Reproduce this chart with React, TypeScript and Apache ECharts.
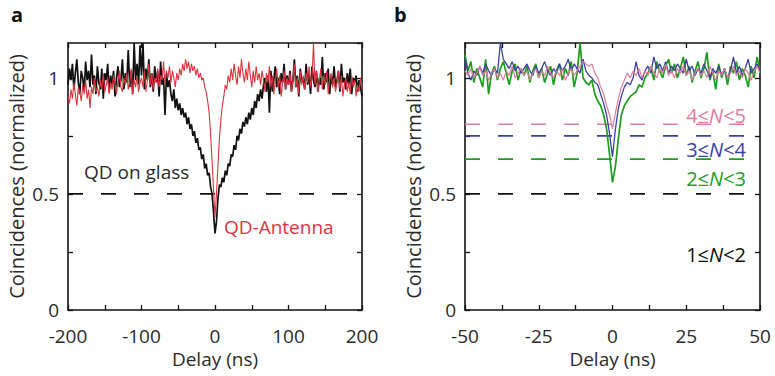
import React, { useEffect, useRef } from "react";
import * as echarts from "echarts";

// ---------- Panel a data (delay -200..200 ns, 2 ns bins) ----------
const A_START = -200;
const A_STEP = 2;
const glassA = [
  0.97, 1.04, 0.99, 1.06, 0.95, 1.02, 1.08, 0.98, 0.93, 1.03,
  1.0, 0.94, 1.07, 0.99, 1.03, 0.96, 1.1, 0.97, 1.01, 0.93,
  1.05, 0.98, 0.95, 1.04, 0.91, 1.02, 0.99, 1.06, 0.94, 1.01,
  0.97, 1.03, 0.92, 1.0, 1.05, 0.96, 0.99, 1.08, 0.95, 1.02,
  0.98, 1.12, 0.96, 1.03, 0.93, 1.15, 0.99, 1.06, 0.97, 1.14,
  1.01, 1.15, 0.95, 1.04, 0.99, 1.08, 0.96, 1.02, 0.94, 1.05,
  0.98, 1.03, 0.92, 1.07, 0.97, 1.0, 0.84, 1.02, 0.96, 0.99,
  0.93, 0.9, 0.95, 0.87, 0.91, 0.86, 0.89, 0.84, 0.87, 0.83,
  0.85, 0.8, 0.83, 0.78, 0.8, 0.75, 0.77, 0.72, 0.74, 0.69,
  0.7, 0.65, 0.67, 0.61, 0.63, 0.58, 0.59, 0.53, 0.5, 0.42,
  0.33,
  0.38, 0.48, 0.54, 0.53, 0.57, 0.55, 0.6, 0.58, 0.63, 0.62,
  0.67, 0.66, 0.71, 0.69, 0.75, 0.73, 0.78, 0.76, 0.81, 0.79,
  0.83, 0.8, 0.85, 0.82, 0.87, 0.84, 0.9, 0.87, 0.93, 0.9,
  0.95, 0.91, 0.97, 1.0, 0.94, 1.01, 0.85, 1.03, 0.94, 0.99,
  1.05, 0.96, 1.0, 0.93, 1.02, 0.98, 1.06, 0.95, 1.01, 0.97,
  1.03, 0.94, 0.99, 1.08, 0.96, 1.01, 0.92, 1.04, 0.98, 1.0,
  0.95, 1.06, 0.97, 1.02, 0.93, 1.05, 0.99, 0.96, 1.03, 0.94,
  1.0, 0.97, 1.09, 0.95, 1.02, 0.98, 1.04, 0.93, 1.01, 0.97,
  1.05, 0.96, 0.99, 1.03, 0.94, 1.06, 0.98, 1.0, 0.95, 1.02,
  0.97, 1.04, 0.93, 1.0, 0.98, 1.01, 0.94, 0.99, 0.96, 0.92,
];
const antennaA = [
  0.92, 0.89, 0.95, 0.91, 0.98, 0.93, 0.88, 0.96, 0.94, 0.9,
  0.97, 0.93, 0.99, 0.91, 0.95, 0.87, 0.96, 0.93, 1.0, 0.94,
  0.96, 0.92, 0.99, 0.95, 1.02, 0.94, 0.97, 1.0, 0.93, 0.98,
  0.95, 1.01, 0.97, 0.93, 0.99, 1.03, 0.96, 0.94, 1.0, 0.97,
  1.02, 0.95, 0.98, 1.04, 0.93, 0.99, 0.96, 1.01, 0.94, 0.98,
  1.0, 0.96, 1.03, 0.94, 0.99, 1.06, 0.97, 1.02, 0.95, 1.0,
  0.98, 1.04, 0.96, 1.01, 0.99, 1.07, 0.97, 1.03, 1.0, 1.05,
  0.98, 1.03, 1.0, 0.96, 1.02, 0.99, 1.04, 1.01, 1.06, 1.03,
  1.08, 1.04, 1.07, 1.02, 1.06, 1.03, 1.05, 1.01, 1.04, 1.0,
  1.02, 0.99, 1.0, 0.96, 0.94, 0.9, 0.85, 0.76, 0.64, 0.52,
  0.4,
  0.5, 0.62, 0.74, 0.82, 0.88, 0.92, 0.97, 0.95, 1.01, 0.98,
  1.04, 0.99, 1.06, 1.01, 0.97, 1.05, 1.0, 1.08, 1.02, 0.98,
  1.04, 0.99, 1.07, 1.01, 0.96, 1.03, 0.98, 1.05, 0.99, 1.02,
  0.97, 1.03, 0.99, 0.94, 1.02, 0.98, 1.05, 0.96, 1.01, 0.93,
  0.99, 1.04, 0.96, 1.01, 0.92, 0.98, 1.03, 0.95, 1.0, 0.97,
  1.02, 0.94, 0.99, 1.06, 0.96, 1.0, 0.93, 1.03, 0.97, 1.01,
  0.95, 1.02, 0.98, 1.05, 0.96, 1.0, 1.15, 0.97, 1.03, 0.94,
  0.99, 1.04, 0.95, 1.01, 0.97, 1.03, 0.93, 0.99, 1.02, 0.96,
  1.0, 0.94, 0.98, 1.03, 0.95, 1.01, 0.92, 0.97, 1.0, 0.94,
  0.98, 0.93, 1.01, 0.96, 0.99, 0.92, 0.97, 0.94, 1.0, 0.95,
];
const thresholdA = 0.5;

// ---------- Panel b data (delay -50..50 ns, 1 ns bins) ----------
const B_START = -50;
const B_STEP = 1;
const n4 = [
  1.03, 1.01, 1.04, 1.0, 1.02, 1.05, 1.01, 1.03, 0.99, 1.02,
  1.04, 1.0, 1.02, 0.99, 1.03, 1.01, 1.05, 1.0, 1.02, 1.04,
  1.01, 1.03, 0.99, 1.02, 1.04, 1.0, 1.03, 1.01, 1.05, 1.02,
  1.0, 1.03, 1.01, 1.04, 0.99, 1.02, 1.04, 1.01, 1.03, 1.05,
  1.07, 1.06, 1.05, 1.06, 1.02, 1.0, 0.96, 0.93, 0.88, 0.84,
  0.78,
  0.85, 0.91, 0.96, 0.99, 1.02, 1.0, 1.03, 1.01, 1.04, 1.0,
  1.03, 1.01, 1.05, 1.02, 1.0, 1.04, 1.02, 1.06, 1.01, 1.03,
  1.0, 1.04, 1.02, 1.05, 1.01, 1.03, 0.99, 1.02, 1.04, 1.01,
  1.03, 1.0, 1.05, 1.02, 0.99, 1.03, 1.01, 1.04, 1.0, 1.02,
  1.05, 1.01, 1.03, 1.0, 1.04, 1.02, 0.99, 1.03, 1.05, 1.02,
];
const n3 = [
  1.08, 1.02, 0.99, 1.03, 1.01, 1.05, 1.02, 1.06, 1.03, 1.01,
  1.04, 1.02, 1.15, 1.08, 1.06, 1.04, 1.07, 1.03, 1.05, 1.02,
  1.04, 1.06, 1.03, 1.01, 1.05, 1.02, 1.04, 1.07, 1.03, 1.01,
  1.04, 1.02, 1.06, 1.03, 1.05, 1.08, 1.03, 1.06, 1.04, 1.02,
  1.08, 1.03, 1.01, 1.0, 0.98, 0.97, 0.93, 0.89, 0.84, 0.76,
  0.66,
  0.78, 0.87, 0.92, 0.96, 0.98, 0.97, 1.0, 1.07, 1.01, 0.99,
  1.03, 1.05, 1.02, 1.09, 1.04, 1.06, 1.03, 1.07, 1.02, 1.05,
  1.03, 1.06, 1.04, 1.02, 1.08, 1.03, 1.05, 1.01, 1.04, 1.02,
  1.06, 1.03, 1.0, 1.04, 1.02, 1.05, 1.01, 1.04, 1.0, 1.03,
  1.09, 1.02, 1.05, 1.01, 1.04, 1.08, 1.02, 1.04, 1.06, 1.03,
];
const n2 = [
  1.1, 1.03, 1.07, 0.98, 1.04, 1.0, 0.96, 1.08, 0.93, 1.02,
  1.05, 0.99, 1.04, 1.07, 1.02, 0.97, 1.03, 1.06, 0.99, 1.04,
  1.01, 1.05, 0.98, 1.03, 1.06, 1.0, 1.04, 0.98, 1.02, 1.05,
  0.97, 1.03, 1.06, 0.99, 1.04, 1.01, 1.07, 0.96, 1.02, 1.15,
  1.0, 0.98, 0.97, 0.99, 0.93, 0.9, 0.88, 0.84, 0.78, 0.67,
  0.55,
  0.62, 0.74, 0.84, 0.88, 0.9, 0.92, 0.93, 0.94, 0.97, 0.96,
  1.0, 1.02, 1.05, 0.99, 1.07, 1.03, 1.0, 1.05, 1.08, 1.02,
  1.06, 1.0, 1.04, 1.09, 1.01, 1.05, 0.98, 1.03, 1.07, 1.0,
  1.04, 1.11, 0.99, 1.03, 0.95, 1.06, 1.0, 1.04, 0.97, 1.05,
  1.02, 1.07, 0.99, 1.04, 1.01, 0.96, 1.05, 1.0, 1.09, 1.03,
];
const thresholdsB = [0.8, 0.75, 0.65, 0.5];
const thresholdEndB = [47, 47, 47, 50];
const labelsB = ["4≤N<5", "3≤N<4", "2≤N<3", "1≤N<2"];

const xTicksA = [-200, -100, 0, 100, 200];
const xTicksB = [-50, -25, 0, 25, 50];
const yTicks = [0, 0.5, 1];

const FONT = "'Open Sans', Lato, sans-serif";
const C_BLACK = "#111111";
const C_TEXT = "#2a2a2a";
const C_RED = "#e0333c";
const C_PINK = "#e07d9c";
const C_BLUE = "#3b3fa6";
const C_GREEN = "#1c9e1c";

function toPairs(start: number, step: number, ys: number[]) {
  return ys.map((y, i) => [start + step * i, y]);
}

function axesFor(gridIndex: number, min: number, max: number, interval: number, labels: number[]) {
  const tickCommon = { show: true, inside: true, length: 5, lineStyle: { color: C_BLACK, width: 1.3 } };
  const lineCommon = { show: true, onZero: false, lineStyle: { color: C_BLACK, width: 1.6 } };
  const x = [
    {
      type: "value", gridIndex, min, max, interval, position: "bottom",
      axisLine: lineCommon, axisTick: tickCommon, splitLine: { show: false },
      axisLabel: {
        show: true, margin: 16, fontSize: 19, color: C_TEXT, fontFamily: FONT,
        formatter: (v: number) => (labels.includes(v) ? String(v) : ""),
      },
      name: "Delay (ns)", nameLocation: "middle", nameGap: 35,
      nameTextStyle: { fontSize: 19, color: C_TEXT, fontFamily: FONT },
    },
    {
      type: "value", gridIndex, min, max, interval, position: "top",
      axisLine: lineCommon, axisTick: tickCommon, splitLine: { show: false },
      axisLabel: { show: false },
    },
  ];
  const y = [
    {
      type: "value", gridIndex, min: 0, max: 1.15, interval: 0.25, position: "left",
      axisLine: lineCommon, axisTick: tickCommon, splitLine: { show: false },
      axisLabel: {
        show: true, margin: 9, fontSize: 19, color: C_TEXT, fontFamily: FONT, showMaxLabel: false,
        formatter: (v: number) => (yTicks.some((t) => Math.abs(t - v) < 1e-6) ? String(v) : ""),
      },
      name: "Coincidences (normalized)", nameLocation: "middle", nameGap: 42,
      nameTextStyle: { fontSize: 20, color: C_TEXT, fontFamily: FONT },
    },
    {
      type: "value", gridIndex, min: 0, max: 1.15, interval: 0.25, position: "right",
      axisLine: lineCommon, axisTick: tickCommon, splitLine: { show: false },
      axisLabel: { show: false },
    },
  ];
  return { x, y };
}

export default function App() {
  const ref = useRef<HTMLDivElement>(null);
  useEffect(() => {
    if (!ref.current) return;
    const chart = echarts.init(ref.current, undefined, { renderer: "svg" });
    const a = axesFor(0, -200, 200, 50, xTicksA);
    const b = axesFor(1, -50, 50, 12.5, xTicksB);
    const lineSeries = (xi: number, yi: number, data: number[][], color: string, width: number, z = 2, dashed = false) => ({
      type: "line", xAxisIndex: xi, yAxisIndex: yi, data, showSymbol: false, symbol: "none",
      lineStyle: { color, width, type: dashed ? [15, 18] : "solid" }, z, silent: true,
    });
    const series: any[] = [
      lineSeries(0, 0, [[-200, thresholdA], [200, thresholdA]], C_BLACK, 1.6, 1, true),
      lineSeries(0, 0, toPairs(A_START, A_STEP, glassA), C_BLACK, 1.7, 2),
      lineSeries(0, 0, toPairs(A_START, A_STEP, antennaA), C_RED, 1.1, 3),
    ];
    const bColors = [C_PINK, C_BLUE, C_GREEN, C_BLACK];
    thresholdsB.forEach((t, i) => {
      series.push(lineSeries(2, 2, [[-50, t], [thresholdEndB[i], t]], bColors[i], 1.6, 1, true));
    });
    series.push(lineSeries(2, 2, toPairs(B_START, B_STEP, n2), C_GREEN, 1.7, 2));
    series.push(lineSeries(2, 2, toPairs(B_START, B_STEP, n3), C_BLUE, 1.3, 3));
    series.push(lineSeries(2, 2, toPairs(B_START, B_STEP, n4), C_PINK, 1.2, 4));

    const labelY = [115, 149, 178, 254];
    const graphic: any[] = [
      { type: "text", x: 11, y: 4, style: { text: "a", font: `bold 20px ${FONT}`, fill: "#111", verticalAlign: "top" } },
      { type: "text", x: 394, y: 4, style: { text: "b", font: `bold 20px ${FONT}`, fill: "#111", verticalAlign: "top" } },
      { type: "text", x: 84, y: 172, style: { text: "QD on glass", font: `19px ${FONT}`, fill: C_TEXT, verticalAlign: "middle" } },
      { type: "text", x: 224, y: 227, style: { text: "QD-Antenna", font: `19px ${FONT}`, fill: C_RED, verticalAlign: "middle" } },
    ];
    labelsB.forEach((lab, i) => {
      const [pre, post] = lab.split("N");
      graphic.push({
        type: "text", x: 746, y: labelY[i],
        style: {
          text: `{r|${pre}}{i|N}{r|${post}}`, align: "right", verticalAlign: "middle",
          rich: {
            r: { fontSize: 20, fontFamily: FONT, fill: bColors[i] },
            i: { fontSize: 20, fontFamily: FONT, fontStyle: "italic", fill: bColors[i] },
          },
        },
      });
    });

    chart.setOption({
      animation: false,
      backgroundColor: "#ffffff",
      grid: [
        { left: 68, top: 43, width: 294, height: 267 },
        { left: 465, top: 43, width: 295, height: 267 },
      ],
      xAxis: [...a.x, ...b.x],
      yAxis: [...a.y, ...b.y],
      series,
      graphic,
    });
    return () => chart.dispose();
  }, []);
  return <div ref={ref} style={{ position: "fixed", left: 0, top: 0, width: 775, height: 376 }} />;
}
